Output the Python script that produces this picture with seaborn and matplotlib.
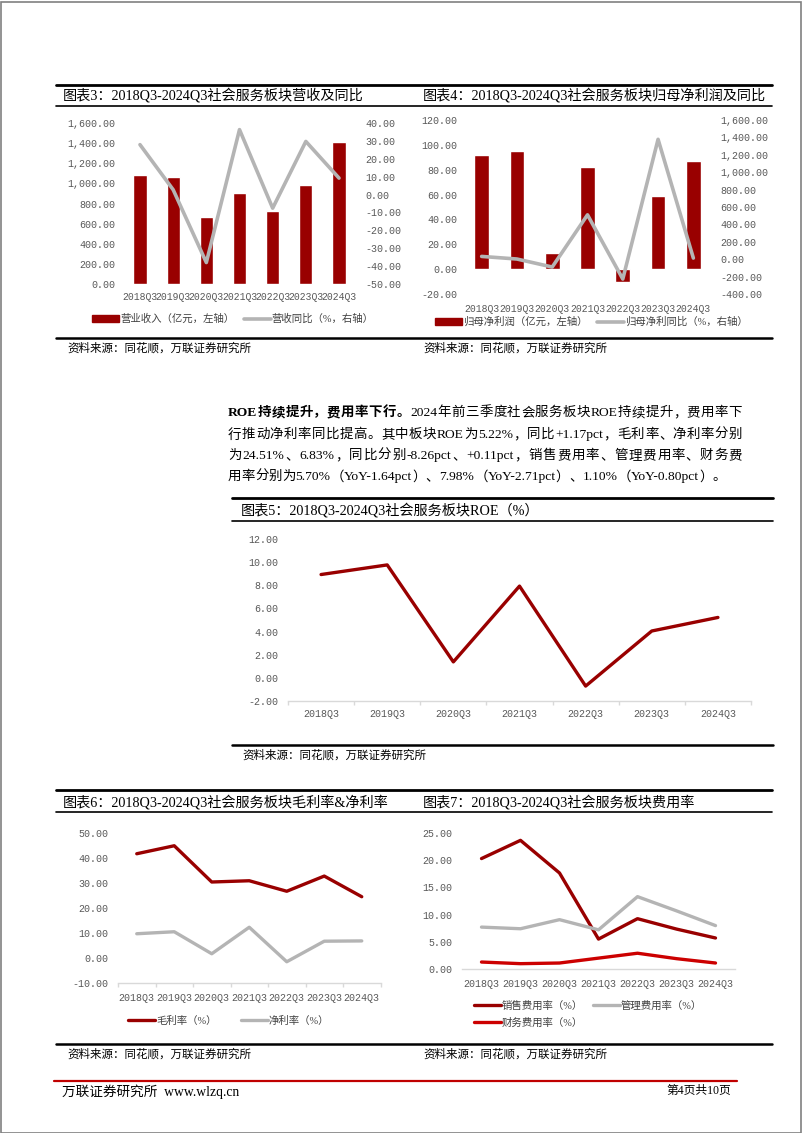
import re
import numpy as np
import pandas as pd
import seaborn as sns
import matplotlib.pyplot as plt
from matplotlib.lines import Line2D
from matplotlib.patches import Patch, Rectangle
from matplotlib.ticker import FuncFormatter

# data
quarters = ["2018Q3", "2019Q3", "2020Q3", "2021Q3", "2022Q3", "2023Q3", "2024Q3"]
revenue = [1085, 1060, 670, 900, 728, 982, 1410]          # 营业收入（亿元）
revenue_yoy = [27.9, 2.7, -38.0, 36.3, -7.6, 29.7, 9.2]    # 营收同比（%）
profit = [91.8, 95.0, 12.9, 82.5, -10.4, 58.9, 86.7]       # 归母净利润（亿元）
profit_yoy = [32, 2, -90, 510, -228, 1378, 13]             # 归母净利同比（%）
roe = [8.93, 9.76, 1.38, 7.93, -0.71, 4.05, 5.22]
gross_margin = [41.7, 44.9, 30.4, 30.9, 26.7, 32.77, 24.51]
net_margin = [9.7, 10.5, 1.7, 12.3, -1.5, 6.72, 6.83]
selling_rate = [20.3, 23.65, 17.65, 5.5, 9.25, 7.34, 5.70]
admin_rate = [7.7, 7.4, 9.07, 7.2, 13.3, 10.69, 7.98]
finance_rate = [1.28, 0.98, 1.10, 2.0, 2.9, 1.90, 1.10]

DARK = "#990000"
RED = "#CC0000"
GRAY = "#B4B4B4"
TXT = "#404040"
CJK = ["Liberation Serif", "Noto Sans CJK SC", "DejaVu Sans"]
MONO = ["Liberation Mono", "Noto Sans CJK SC", "DejaVu Sans"]

W, H = 802, 1133
sns.set_theme(style="white")
plt.rcParams["font.family"] = CJK
plt.rcParams["axes.unicode_minus"] = False

fig = plt.figure(figsize=(W / 100, H / 100), dpi=100)


def box(l, t, r, b):
    return [l / W, 1 - b / H, (r - l) / W, (b - t) / H]


def hline(x0, x1, y, lw, color="black"):
    fig.add_artist(Line2D([x0 / W, x1 / W], [1 - y / H, 1 - y / H], lw=lw, color=color))


def ftext(x, y, s, **kw):
    kw.setdefault("va", "center")
    return fig.text(x / W, 1 - y / H, s, **kw)


fmt = FuncFormatter(lambda v, p: f"{v:,.2f}")


def style_ticks(ax, ypad=6, xpad=6, xsize=7.2):
    ax.set_xlabel("")
    ax.set_ylabel("")
    ax.yaxis.set_major_formatter(fmt)
    ax.tick_params(axis="both", length=0)
    ax.tick_params(axis="y", pad=ypad)
    ax.tick_params(axis="x", pad=xpad)
    for lab in ax.get_yticklabels():
        lab.set_fontfamily(MONO)
        lab.set_fontsize(7.2)
        lab.set_color("#595959")
    for lab in ax.get_xticklabels():
        lab.set_fontfamily(MONO)
        lab.set_fontsize(xsize)
        lab.set_color("#595959")


def line_axes(ax):
    for s in ["top", "right", "left"]:
        ax.spines[s].set_visible(False)
    ax.spines["bottom"].set_color("#D9D9D9")
    ax.spines["bottom"].set_linewidth(1)
    ax.set_xlim(-0.5, len(quarters) - 0.5)
    ax.set_xticks(np.arange(-0.5, len(quarters), 1), minor=True)
    ax.tick_params(axis="x", which="minor", length=3, color="#D9D9D9", width=1, bottom=True)


def legend(handles, labels, x, y, ncol=2, colsp=1.0, **kw):
    fig.legend(handles, labels, loc="center left", bbox_to_anchor=(x / W, 1 - y / H),
               ncol=ncol, frameon=False, borderpad=0, borderaxespad=0,
               handlelength=2.6, handletextpad=0.1, columnspacing=colsp,
               prop={"family": CJK, "size": 7.5}, labelcolor=TXT, **kw)


def panel(x0, x1, ytop, ytitle, yunder, ybottom, titles, sources):
    hline(x0, x1, ytop, 2)
    hline(x0, x1, yunder, 1.2)
    hline(x0, x1, ybottom, 1.8)
    for tx, t in titles:
        ftext(tx, ytitle, t, size=10.2, color="black")
    for sx, s in sources:
        ftext(sx, ybottom + 11, s, size=8.3, color="black")


SRC = "资料来源：同花顺，万联证券研究所"

# ---- top row panels
panel(56, 772, 85, 95, 106, 338,
      [(63, "图表3：2018Q3-2024Q3社会服务板块营收及同比"),
       (423, "图表4：2018Q3-2024Q3社会服务板块归母净利润及同比")],
      [(67, SRC), (423, SRC)])

df3 = pd.DataFrame({"quarter": quarters, "revenue": revenue, "yoy": revenue_yoy})
ax3 = fig.add_axes(box(123.4, 123, 355.6, 284))
sns.barplot(data=df3, x="quarter", y="revenue", color=DARK, saturation=1, width=0.4, ax=ax3)
ax3.set_ylim(0, 1600)
ax3.set_yticks(np.arange(0, 1601, 200))
ax3b = ax3.twinx()
sns.lineplot(data=df3, x="quarter", y="yoy", color=GRAY, linewidth=2.6, ax=ax3b)
ax3b.set_ylim(-50, 40)
ax3b.set_yticks(np.arange(-50, 41, 10))
ax3.set_xlim(-0.5, 6.5)
for a in (ax3, ax3b):
    sns.despine(ax=a, left=True, bottom=True, right=True, top=True)
style_ticks(ax3, ypad=6, xpad=6, xsize=7.0)
style_ticks(ax3b, ypad=7)
legend([Patch(color=DARK), Line2D([], [], color=GRAY, lw=2.6)],
       ["营业收入（亿元，左轴）", "营收同比（%，右轴）"], 92, 319, colsp=0.9,
       handleheight=0.55)

df4 = pd.DataFrame({"quarter": quarters, "profit": profit, "yoy": profit_yoy})
ax4 = fig.add_axes(box(464, 120, 711, 294))
sns.barplot(data=df4, x="quarter", y="profit", color=DARK, saturation=1, width=0.42, ax=ax4)
ax4.set_ylim(-20, 120)
ax4.set_yticks(np.arange(-20, 121, 20))
ax4b = ax4.twinx()
sns.lineplot(data=df4, x="quarter", y="yoy", color=GRAY, linewidth=2.6, ax=ax4b)
ax4b.set_ylim(-400, 1600)
ax4b.set_yticks(np.arange(-400, 1601, 200))
ax4.set_xlim(-0.5, 6.5)
for a in (ax4, ax4b):
    sns.despine(ax=a, left=True, bottom=True, right=True, top=True)
style_ticks(ax4, ypad=5, xpad=7, xsize=7.0)
style_ticks(ax4b, ypad=6.5)
legend([Patch(color=DARK), Line2D([], [], color=GRAY, lw=2.6)],
       ["归母净利润（亿元，左轴）", "归母净利同比（%，右轴）"], 435, 322, colsp=0.9,
       handleheight=0.55)

# ---- paragraph
renderer = fig.canvas.get_renderer()
para = [
    [("ROE持续提升，费用率下行。", "bold"), ("2024年前三季度社会服务板块ROE持续提升，费用率下", "normal")],
    [("行推动净利率同比提高。其中板块ROE为5.22%，同比+1.17pct，毛利率、净利率分别", "normal")],
    [("为24.51%、6.83%，同比分别-8.26pct、+0.11pct，销售费用率、管理费用率、财务费", "normal")],
    [("用率分别为5.70%（YoY-1.64pct）、7.98%（YoY-2.71pct）、1.10%（YoY-0.80pct）。", "normal")],
]
para_y = [413, 435, 456, 477]
x_left, x_right = 228, 742
for i, (parts, y) in enumerate(zip(para, para_y)):
    toks = []
    for s, wgt in parts:
        for t in re.findall(r"[A-Za-z0-9.%+\-]+|.", s):
            toks.append((t, wgt))
    arts, widths = [], []
    for t, wgt in toks:
        a = ftext(x_left, y, t, size=9.7, weight=wgt, color="black", family=CJK)
        widths.append(a.get_window_extent(renderer).width)
        arts.append(a)
    gap = 0
    if i < len(para) - 1:
        gap = (x_right - x_left - sum(widths)) / (len(toks) - 1)
    x = x_left
    for a, w in zip(arts, widths):
        a.set_x(x / W)
        x += w + gap

# ---- ROE panel
panel(232, 773, 498, 510, 521, 745,
      [(241, "图表5：2018Q3-2024Q3社会服务板块ROE（%）")], [(242, SRC)])
df5 = pd.DataFrame({"quarter": quarters, "roe": roe})
ax5 = fig.add_axes(box(288, 539, 751, 701))
sns.lineplot(data=df5, x="quarter", y="roe", color=DARK, linewidth=2.4, ax=ax5)
ax5.set_ylim(-2, 12)
ax5.set_yticks(np.arange(-2, 12.1, 2))
line_axes(ax5)
style_ticks(ax5, ypad=7, xpad=6)

# ---- bottom row panels
panel(56, 772, 790, 802, 812, 1044,
      [(63, "图表6：2018Q3-2024Q3社会服务板块毛利率&净利率"),
       (423, "图表7：2018Q3-2024Q3社会服务板块费用率")],
      [(67, SRC), (423, SRC)])

df6 = pd.DataFrame({"quarter": quarters, "gross": gross_margin, "net": net_margin})
ax6 = fig.add_axes(box(118, 833, 380.5, 983))
sns.lineplot(data=df6, x="quarter", y="gross", color=DARK, linewidth=2.4, ax=ax6)
sns.lineplot(data=df6, x="quarter", y="net", color=GRAY, linewidth=2.4, ax=ax6)
ax6.set_ylim(-10, 50)
ax6.set_yticks(np.arange(-10, 51, 10))
line_axes(ax6)
style_ticks(ax6, ypad=7, xpad=7)
legend([Line2D([], [], color=DARK, lw=2.4), Line2D([], [], color=GRAY, lw=2.4)],
       ["毛利率（%）", "净利率（%）"], 128, 1021, colsp=2.3)

df7 = pd.DataFrame({"quarter": quarters, "sell": selling_rate, "admin": admin_rate,
                    "fin": finance_rate})
ax7 = fig.add_axes(box(462, 833, 735, 969))
sns.lineplot(data=df7, x="quarter", y="sell", color=DARK, linewidth=2.4, ax=ax7)
sns.lineplot(data=df7, x="quarter", y="admin", color=GRAY, linewidth=2.4, ax=ax7)
sns.lineplot(data=df7, x="quarter", y="fin", color=RED, linewidth=2.4, ax=ax7)
ax7.set_ylim(0, 25)
ax7.set_yticks(np.arange(0, 26, 5))
line_axes(ax7)
ax7.tick_params(axis="x", which="minor", length=0)
style_ticks(ax7, ypad=7, xpad=7)
legend([Line2D([], [], color=DARK, lw=2.4), Line2D([], [], color=RED, lw=2.4),
        Line2D([], [], color=GRAY, lw=2.4)],
       ["销售费用率（%）", "财务费用率（%）", "管理费用率（%）"], 474, 1014,
       colsp=0.9, labelspacing=0.7)

# ---- footer and page border
hline(54, 737, 1081, 1.6, color="#C00000")
ftext(62, 1092, "万联证券研究所  www.wlzq.cn", size=9.8, color="black")
ftext(731, 1091, "第4页共10页", size=8.5, color="black", ha="right")
fig.add_artist(Rectangle((0.5 / W, 0.5 / H), 1 - 2 / W, 1 - 2 / H, fill=False,
                         edgecolor="#808080", lw=1.2, transform=fig.transFigure))

fig.savefig("out.png", dpi=100)
